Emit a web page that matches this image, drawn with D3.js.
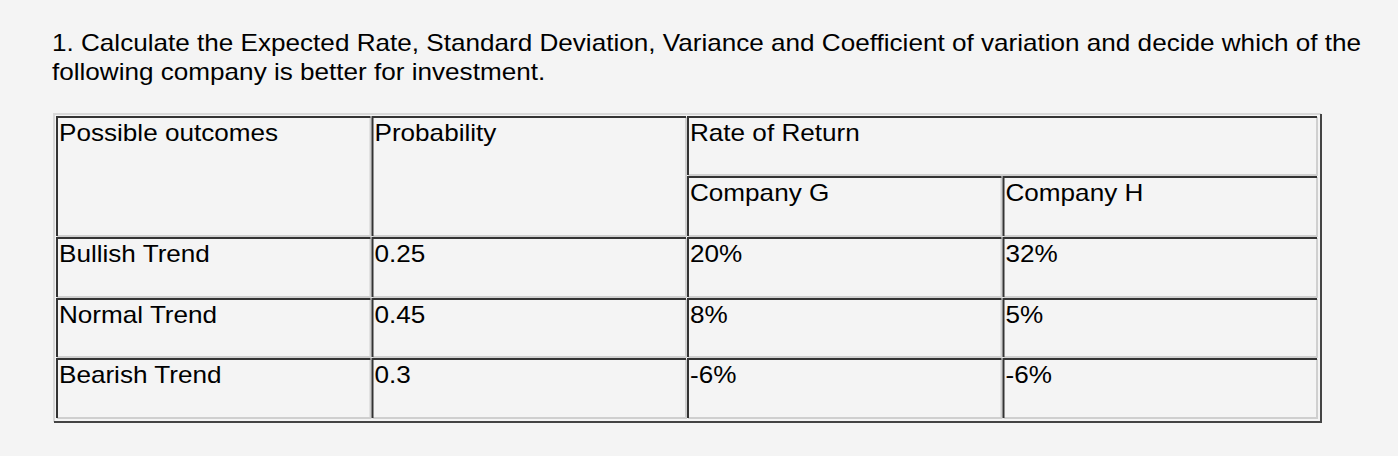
<!DOCTYPE html><html><head><meta charset="utf-8"><script src="https://cdn.jsdelivr.net/npm/d3@7"></script>
<style>body{margin:0;background:#f4f4f4}</style></head><body><svg id="c" width="1398" height="456"></svg>
<script>
const titleLines=["1. Calculate the Expected Rate, Standard Deviation, Variance and Coefficient of variation and decide which of the","following company is better for investment."];
const columns=["Possible outcomes","Probability","Rate of Return"];
const companies=["Company G","Company H"];
const outcomes=["Bullish Trend","Normal Trend","Bearish Trend"];
const probabilities=["0.25","0.45","0.3"];
const returnsG=["20%","8%","-6%"];
const returnsH=["32%","5%","-6%"];

const svg=d3.select("#c");
const font="Liberation Sans, Arial, sans-serif";
const sx=1.135;
svg.selectAll("text.t").data(titleLines).join("text")
 .attr("transform",(d,i)=>`translate(52,${51+i*29}) scale(${sx},1)`)
 .attr("font-family",font).attr("font-size",23).attr("fill","#000").text(d=>d);

const x=d3.scaleLinear().domain([0,4]).range([56,1318]);
const rowsY=[116,176,237,298,358,419];
const cells=[[0,1,0,2,columns[0]],[1,2,0,2,columns[1]],[2,4,0,1,columns[2]],[2,3,1,2,companies[0]],[3,4,1,2,companies[1]]];
outcomes.forEach((o,i)=>{const r=i+2;cells.push([0,1,r,r+1,o],[1,2,r,r+1,probabilities[i]],[2,3,r,r+1,returnsG[i]],[3,4,r,r+1,returnsH[i]]);});
const L=x(0)-2,R=x(4)+3,T=rowsY[0]-2,B=rowsY[5]+3;
svg.append("path").attr("d",`M${L},${B}V${T}H${R}`).attr("stroke","#d8d8d8").attr("stroke-width",2).attr("fill","none");
svg.append("path").attr("d",`M${L},${B}H${R}V${T}`).attr("stroke","#444").attr("stroke-width",2).attr("fill","none");
const g=svg.selectAll("g.cell").data(cells).join("g");
g.each(function(d){
 const s=d3.select(this);
 const x0=x(d[0])+1,x1=x(d[1])-1,y0=rowsY[d[2]]+1,y1=rowsY[d[3]]-1;
 s.append("path").attr("d",`M${x0},${y1}H${x1}V${y0}`).attr("stroke","#cfcfcf").attr("stroke-width",2).attr("fill","none");
 s.append("path").attr("d",`M${x0},${y1}V${y0}H${x1}`).attr("stroke","#333").attr("stroke-width",2).attr("fill","none");
 s.append("text").attr("transform",`translate(${x0+2},${y0+24}) scale(${sx},1)`).attr("font-family",font).attr("font-size",23).attr("fill","#000").text(d[4]);
});
</script></body></html>
